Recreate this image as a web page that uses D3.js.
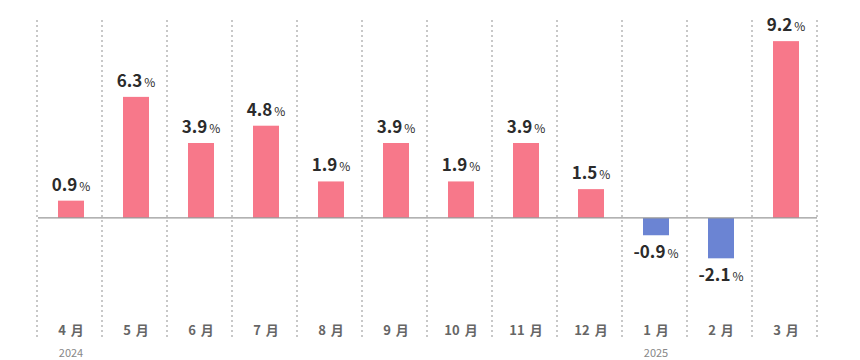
<!DOCTYPE html>
<html><head><meta charset="utf-8">
<script src="https://cdn.jsdelivr.net/npm/d3@7"></script>
<style>body{margin:0;background:#fff}svg{display:block}text{font-family:"Noto Sans CJK JP","Noto Sans",sans-serif}</style>
</head><body><svg id="c" width="860" height="360"></svg>
<script>
const months = ["4 月","5 月","6 月","7 月","8 月","9 月","10 月","11 月","12 月","1 月","2 月","3 月"];
const values = [0.9, 6.3, 3.9, 4.8, 1.9, 3.9, 1.9, 3.9, 1.5, -0.9, -2.1, 9.2];
const years = [{index:0,label:"2024"},{index:9,label:"2025"}];

const svg = d3.select("#c");
const x = d3.scaleBand().domain(months).range([38.5, 818.5]).paddingInner(0.6).paddingOuter(0.3);
const y = d3.scaleLinear().domain([-6.35, 10.3]).range([340, 20]);
const step = x.step();

// dotted vertical gridlines at band boundaries
const bounds = d3.range(months.length + 1).map(i => 37 + i * step);
svg.append("g").selectAll("line").data(bounds).join("line")
  .attr("x1", d => d).attr("x2", d => d)
  .attr("y1", y(10.3)).attr("y2", y(-6.35))
  .attr("stroke", "#c8c8c8").attr("stroke-width", 2).attr("stroke-dasharray", "2,3");

// bars
svg.append("g").selectAll("rect").data(values).join("rect")
  .attr("x", (d, i) => x(months[i]))
  .attr("width", x.bandwidth())
  .attr("y", d => y(Math.max(0, d)))
  .attr("height", d => Math.abs(y(d) - y(0)))
  .attr("fill", d => d >= 0 ? "#f7788a" : "#6b84d3");

// zero line
svg.append("line").attr("x1", 38).attr("x2", 817).attr("y1", y(0)).attr("y2", y(0))
  .attr("stroke", "#999").attr("stroke-width", 1.2);

// value labels
const lab = svg.append("g").selectAll("text").data(values).join("text")
  .attr("x", (d, i) => x(months[i]) + x.bandwidth() / 2)
  .attr("y", d => d >= 0 ? y(d) - 10 : y(d) + 23)
  .attr("text-anchor", "middle")
  .attr("fill", "#2b2b2b");
lab.append("tspan").attr("font-size", 17).attr("font-weight", 700).text(d => d.toFixed(1));
lab.append("tspan").attr("font-size", 12).attr("font-weight", 400).attr("dx", 2).text("%");

// month axis labels
const xAxis = d3.axisBottom(x).tickSize(0).tickPadding(0);
const ag = svg.append("g").attr("transform", "translate(0,326)").call(xAxis);
ag.select(".domain").remove();
ag.selectAll("text").attr("font-size", 13).attr("font-weight", 700).attr("fill", "#666")
  .attr("word-spacing", "2px")
  .attr("font-family", '"Noto Sans CJK JP","Noto Sans",sans-serif');

// year labels
svg.append("g").selectAll("text").data(years).join("text")
  .attr("x", d => x(months[d.index]) + x.bandwidth() / 2)
  .attr("y", 357)
  .attr("text-anchor", "middle").attr("font-size", 11).attr("fill", "#888")
  .text(d => d.label);
</script></body></html>
